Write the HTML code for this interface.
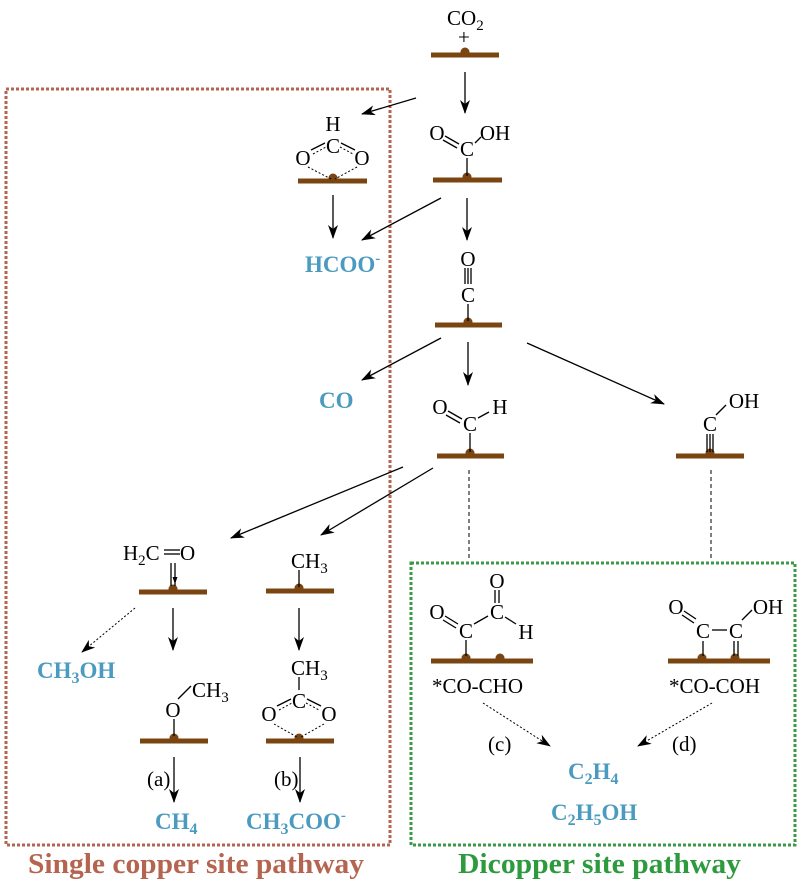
<!DOCTYPE html>
<html><head><meta charset="utf-8"><style>
html,body{margin:0;padding:0;background:#fff;}
svg{display:block;}
.t{font-family:"Liberation Serif",serif;font-size:21px;fill:#000;}
.b{font-family:"Liberation Serif",serif;font-size:23px;font-weight:bold;fill:#4a9bbf;}
.s{stroke:#7a4510;stroke-width:5;}
.k{stroke:#000;stroke-width:1.3;fill:none;}
.d{stroke:#000;stroke-width:1;stroke-dasharray:2,2;fill:none;}
</style></head><body>
<svg width="804" height="888" viewBox="0 0 804 888" xmlns="http://www.w3.org/2000/svg">
<defs>
<marker id="a" markerWidth="14" markerHeight="10" refX="13" refY="5" orient="auto" markerUnits="userSpaceOnUse">
<path d="M0,0 L14,5 L0,10 L4,5 z" fill="#000"/></marker>
</defs>
<rect x="6" y="89" width="384" height="756" fill="none" stroke="#b5654f" stroke-width="3" stroke-dasharray="3,2"/>
<rect x="411" y="563" width="384" height="282" fill="none" stroke="#3a9a45" stroke-width="3" stroke-dasharray="3,2"/>
<text x="28" y="873" font-family="Liberation Serif,serif" font-weight="bold" font-size="28" fill="#b5654f" textLength="336" lengthAdjust="spacingAndGlyphs">Single copper site pathway</text>
<text x="458" y="873" font-family="Liberation Serif,serif" font-weight="bold" font-size="28" fill="#2e9a3e" textLength="283" lengthAdjust="spacingAndGlyphs">Dicopper site pathway</text>

<g class="s">
<line x1="431" y1="55" x2="499" y2="55"/>
<line x1="298" y1="181" x2="367" y2="181"/>
<line x1="433" y1="180" x2="502" y2="180"/>
<line x1="435" y1="325" x2="502" y2="325"/>
<line x1="437" y1="456" x2="504" y2="456"/>
<line x1="676" y1="456" x2="744" y2="456"/>
<line x1="139" y1="592" x2="207" y2="592"/>
<line x1="266" y1="591" x2="334" y2="591"/>
<line x1="140" y1="741" x2="208" y2="741"/>
<line x1="266" y1="741" x2="334" y2="741"/>
<line x1="431" y1="661" x2="533" y2="661"/>
<line x1="668" y1="661" x2="770" y2="661"/>
</g>
<g fill="#7a4510">
<circle cx="465" cy="52" r="4.5"/><circle cx="333" cy="178" r="4.5"/><circle cx="467" cy="177" r="4.5"/>
<circle cx="468" cy="322" r="4.5"/><circle cx="470" cy="453" r="4.5"/><circle cx="710" cy="453" r="4.5"/>
<circle cx="173" cy="589" r="4.5"/><circle cx="299" cy="588" r="4.5"/><circle cx="174" cy="738" r="4.5"/>
<circle cx="299" cy="738" r="4.5"/><circle cx="466" cy="658" r="4.5"/><circle cx="500" cy="658" r="4.5"/>
<circle cx="702" cy="658" r="4.5"/><circle cx="735" cy="658" r="4.5"/>
</g>

<text class="t" x="447" y="25">CO<tspan font-size="15" dy="5">2</tspan></text>
<text class="t" x="458" y="44">+</text>

<!-- HCOO* -->
<text class="t" x="333" y="131" text-anchor="middle">H</text>
<text class="t" x="333" y="153" text-anchor="middle">C</text>
<text class="t" x="303" y="165" text-anchor="middle">O</text>
<text class="t" x="362" y="165" text-anchor="middle">O</text>
<line class="k" x1="311" y1="150" x2="325" y2="143"/><line class="d" x1="313" y1="154" x2="326" y2="147"/>
<line class="k" x1="341" y1="143" x2="355" y2="150"/><line class="d" x1="340" y1="147" x2="353" y2="154"/>
<line class="d" x1="308" y1="167" x2="331" y2="179"/><line class="d" x1="357" y1="167" x2="335" y2="179"/>

<!-- COOH* -->
<text class="t" x="437" y="140" text-anchor="middle">O</text>
<text class="t" x="467" y="156" text-anchor="middle">C</text>
<text class="t" x="495" y="140" text-anchor="middle">OH</text>
<line class="k" x1="445" y1="136" x2="459" y2="144"/><line class="k" x1="443" y1="140" x2="457" y2="148"/>
<line class="k" x1="475" y1="143" x2="481" y2="137"/>
<line class="k" x1="467" y1="158" x2="467" y2="176"/>

<!-- CO* -->
<text class="t" x="468" y="266" text-anchor="middle">O</text>
<text class="t" x="468" y="302" text-anchor="middle">C</text>
<line class="k" x1="465" y1="268" x2="465" y2="284"/><line class="k" x1="468" y1="268" x2="468" y2="284"/><line class="k" x1="471" y1="268" x2="471" y2="284"/>
<line class="k" x1="468" y1="304" x2="468" y2="321"/>

<!-- CHO* -->
<text class="t" x="440" y="414" text-anchor="middle">O</text>
<text class="t" x="470" y="431" text-anchor="middle">C</text>
<text class="t" x="500" y="414" text-anchor="middle">H</text>
<line class="k" x1="448" y1="411" x2="462" y2="419"/><line class="k" x1="446" y1="415" x2="460" y2="423"/>
<line class="k" x1="478" y1="418" x2="489" y2="412"/>
<line class="k" x1="470" y1="433" x2="470" y2="452"/>

<!-- COH* -->
<text class="t" x="744" y="408" text-anchor="middle">OH</text>
<text class="t" x="710" y="431" text-anchor="middle">C</text>
<line class="k" x1="716" y1="415" x2="726" y2="405"/>
<line class="k" x1="707" y1="434" x2="707" y2="452"/><line class="k" x1="710" y1="434" x2="710" y2="452"/><line class="k" x1="713" y1="434" x2="713" y2="452"/>

<!-- H2C=O -->
<text class="t" x="123" y="560">H<tspan font-size="15" dy="5">2</tspan><tspan dy="-5">C</tspan></text>
<text class="t" x="180" y="560">O</text>
<line class="k" x1="164" y1="550" x2="180" y2="550"/><line class="k" x1="164" y1="554" x2="180" y2="554"/>
<line class="k" x1="171" y1="563" x2="171" y2="586"/><line class="k" x1="175" y1="563" x2="175" y2="586"/>
<path d="M175,584 l-2.5,-7 l5,0 z" fill="#000"/>

<!-- CH3* -->
<text class="t" x="291" y="568">CH<tspan font-size="15" dy="5">3</tspan></text>
<line class="k" x1="299" y1="570" x2="299" y2="587"/>

<!-- OCH3* -->
<text class="t" x="173" y="717" text-anchor="middle">O</text>
<text class="t" x="192" y="697">CH<tspan font-size="15" dy="5">3</tspan></text>
<line class="k" x1="178" y1="699" x2="191" y2="686"/>
<line class="k" x1="174" y1="719" x2="174" y2="736"/>

<!-- CH3COO* -->
<text class="t" x="291" y="675">CH<tspan font-size="15" dy="5">3</tspan></text>
<line class="k" x1="299" y1="677" x2="299" y2="690"/>
<text class="t" x="299" y="708" text-anchor="middle">C</text>
<text class="t" x="269" y="721" text-anchor="middle">O</text>
<text class="t" x="329" y="721" text-anchor="middle">O</text>
<line class="k" x1="277" y1="706" x2="291" y2="699"/><line class="d" x1="279" y1="710" x2="292" y2="703"/>
<line class="k" x1="307" y1="699" x2="321" y2="706"/><line class="d" x1="306" y1="703" x2="319" y2="710"/>
<line class="d" x1="274" y1="724" x2="297" y2="737"/><line class="d" x1="324" y1="724" x2="301" y2="737"/>

<!-- CO-CHO -->
<text class="t" x="437" y="619" text-anchor="middle">O</text>
<text class="t" x="466" y="638" text-anchor="middle">C</text>
<text class="t" x="497" y="619" text-anchor="middle">C</text>
<text class="t" x="497" y="588" text-anchor="middle">O</text>
<text class="t" x="526" y="639" text-anchor="middle">H</text>
<line class="k" x1="445" y1="616" x2="458" y2="624"/><line class="k" x1="443" y1="620" x2="456" y2="628"/>
<line class="k" x1="474" y1="624" x2="488" y2="616"/>
<line class="k" x1="495" y1="590" x2="495" y2="603"/><line class="k" x1="499" y1="590" x2="499" y2="603"/>
<line class="k" x1="505" y1="617" x2="516" y2="624"/>
<line class="k" x1="466" y1="640" x2="466" y2="656"/>
<text class="t" x="432" y="693">*CO-CHO</text>

<!-- CO-COH -->
<text class="t" x="676" y="614" text-anchor="middle">O</text>
<text class="t" x="703" y="638" text-anchor="middle">C</text>
<text class="t" x="736" y="638" text-anchor="middle">C</text>
<text class="t" x="768" y="614" text-anchor="middle">OH</text>
<line class="k" x1="684" y1="611" x2="696" y2="619"/><line class="k" x1="682" y1="615" x2="694" y2="623"/>
<line class="k" x1="712" y1="630" x2="727" y2="630"/>
<line class="k" x1="742" y1="620" x2="752" y2="610"/>
<line class="k" x1="703" y1="641" x2="703" y2="656"/>
<line class="k" x1="734" y1="641" x2="734" y2="656"/><line class="k" x1="738" y1="641" x2="738" y2="656"/>
<text class="t" x="669" y="693">*CO-COH</text>

<g class="k" marker-end="url(#a)">
<line x1="416" y1="98" x2="362" y2="114"/>
<line x1="465" y1="72" x2="465" y2="113"/>
<line x1="333" y1="195" x2="333" y2="238"/>
<line x1="441" y1="198" x2="362" y2="240"/>
<line x1="467" y1="198" x2="467" y2="240"/>
<line x1="441" y1="338" x2="362" y2="380"/>
<line x1="468" y1="342" x2="468" y2="385"/>
<line x1="527" y1="343" x2="664" y2="404"/>
<line x1="403" y1="467" x2="231" y2="538"/>
<line x1="433" y1="468" x2="321" y2="535"/>
<line x1="173" y1="608" x2="173" y2="650"/>
<line x1="299" y1="608" x2="299" y2="650"/>
<line x1="174" y1="757" x2="174" y2="802"/>
<line x1="300" y1="757" x2="300" y2="802"/>
</g>
<g class="d" marker-end="url(#a)">
<line x1="135" y1="608" x2="82" y2="652"/>
<line x1="483" y1="703" x2="550" y2="746"/>
<line x1="712" y1="703" x2="638" y2="746"/>
</g>
<line x1="469" y1="470" x2="469" y2="560" stroke="#000" stroke-width="1" stroke-dasharray="4,3"/>
<line x1="711" y1="470" x2="711" y2="560" stroke="#000" stroke-width="1" stroke-dasharray="4,3"/>

<text class="t" x="147" y="786">(a)</text>
<text class="t" x="274" y="786">(b)</text>
<text class="t" x="488" y="751">(c)</text>
<text class="t" x="672" y="751">(d)</text>

<text class="b" x="305" y="272">HCOO<tspan font-size="15" dy="-9">-</tspan></text>
<text class="b" x="319" y="408">CO</text>
<text class="b" x="37" y="678">CH<tspan font-size="16" dy="5">3</tspan><tspan dy="-5">OH</tspan></text>
<text class="b" x="155" y="829">CH<tspan font-size="16" dy="5">4</tspan></text>
<text class="b" x="246" y="829">CH<tspan font-size="16" dy="5">3</tspan><tspan dy="-5">COO</tspan><tspan font-size="15" dy="-9">-</tspan></text>
<text class="b" x="568" y="779">C<tspan font-size="16" dy="5">2</tspan><tspan dy="-5">H</tspan><tspan font-size="16" dy="5">4</tspan></text>
<text class="b" x="551" y="820">C<tspan font-size="16" dy="5">2</tspan><tspan dy="-5">H</tspan><tspan font-size="16" dy="5">5</tspan><tspan dy="-5">OH</tspan></text>
</svg>
</body></html>
